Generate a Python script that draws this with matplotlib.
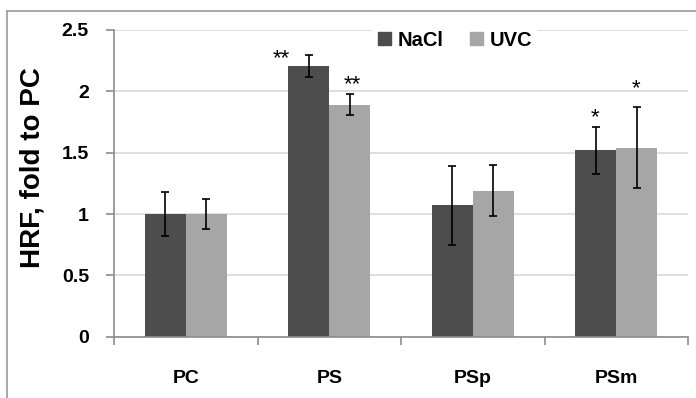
import numpy as np
import matplotlib.pyplot as plt
from matplotlib.lines import Line2D
from matplotlib.patches import Patch

plt.rcParams['font.family'] = ['Liberation Sans', 'DejaVu Sans']

groups = ['PC', 'PS', 'PSp', 'PSm']
nacl = [1.00, 2.21, 1.07, 1.52]
nacl_err = [0.18, 0.09, 0.32, 0.19]
uvc = [1.00, 1.89, 1.19, 1.54]
uvc_err = [0.12, 0.085, 0.21, 0.33]
nacl_marks = ['', '**', '', '*']
uvc_marks = ['', '**', '', '*']

dark = '#4d4d4d'
light = '#a6a6a6'
axis_col = '#8c8c8c'

fig = plt.figure(figsize=(6.96, 3.98), dpi=100)
ax = fig.add_axes([114 / 696, 1 - 336.7 / 398, 574 / 696, 306.7 / 398])

x = np.arange(len(groups))
w = 0.286
ax.bar(x - w / 2, nacl, w, color=dark, zorder=2)
ax.bar(x + w / 2, uvc, w, color=light, zorder=2)
ax.errorbar(x - w / 2, nacl, yerr=nacl_err, fmt='none', ecolor='black',
            elinewidth=1.2, capsize=3, capthick=1.2, zorder=3)
ax.errorbar(x + w / 2, uvc, yerr=uvc_err, fmt='none', ecolor='black',
            elinewidth=1.2, capsize=3, capthick=1.2, zorder=3)

# significance stars, offsets in pixels from the error bar top
star_offsets = {('nacl', 1): (-27, 2), ('uvc', 1): (3, 16),
                ('nacl', 3): (-1, 15), ('uvc', 3): (-1, 25)}
for i in range(len(groups)):
    for key, vals, errs, marks, sx in (('nacl', nacl, nacl_err, nacl_marks, -w / 2),
                                       ('uvc', uvc, uvc_err, uvc_marks, w / 2)):
        if not marks[i]:
            continue
        dx, dy = star_offsets[(key, i)]
        ax.annotate(marks[i], xy=(x[i] + sx, vals[i] + errs[i]),
                    xytext=(dx, dy - 6), textcoords='offset pixels',
                    ha='center', va='center', fontsize=16, zorder=4)

ax.set_xlim(-0.5, len(groups) - 0.5)
ax.set_ylim(0, 2.5)
ax.set_yticks(np.arange(0, 2.51, 0.5))
ax.set_yticklabels(['0', '0.5', '1', '1.5', '2', '2.5'])
ax.yaxis.grid(True, color='#d9d9d9', linewidth=1.2, zorder=0)
ax.set_axisbelow(True)

ax.set_xticks(x)
ax.set_xticklabels(groups)
ax.set_xticks(np.arange(-0.5, len(groups), 1.0), minor=True)
ax.tick_params(axis='x', which='major', length=0, pad=24, labelsize=14)
ax.tick_params(axis='x', which='minor', length=6, color=axis_col, width=1.2,
               direction='out')
ax.tick_params(axis='y', length=6, color=axis_col, width=1.2, pad=12,
               labelsize=14)
for lab in ax.get_xticklabels() + ax.get_yticklabels():
    lab.set_fontweight('bold')

for s in ['top', 'right']:
    ax.spines[s].set_visible(False)
for s in ['left', 'bottom']:
    ax.spines[s].set_color(axis_col)
    ax.spines[s].set_linewidth(1.2)

ax.set_ylabel('HRF, fold to PC', fontsize=20, fontweight='bold')
ax.yaxis.set_label_coords(-0.12, 0.55)

handles = [Patch(color=dark, label='NaCl'), Patch(color=light, label='UVC')]
leg = ax.legend(handles=handles, loc='center', bbox_to_anchor=(0.594, 0.967),
                ncol=2, frameon=True, fancybox=False, edgecolor='none',
                facecolor='white', framealpha=1, handlelength=0.64,
                handleheight=0.64, handletextpad=0.35, columnspacing=1.3,
                borderpad=0.3, prop={'weight': 'bold', 'size': 14.5})

# outer chart border
fig.add_artist(Line2D([7 / 696, 7 / 696], [0, 1 - 11 / 398], color='#9a9a9a', lw=1.2))
fig.add_artist(Line2D([7 / 696, 1], [1 - 11 / 398, 1 - 11 / 398], color='#9a9a9a', lw=1.2))

fig.savefig('out.png', dpi=100)
